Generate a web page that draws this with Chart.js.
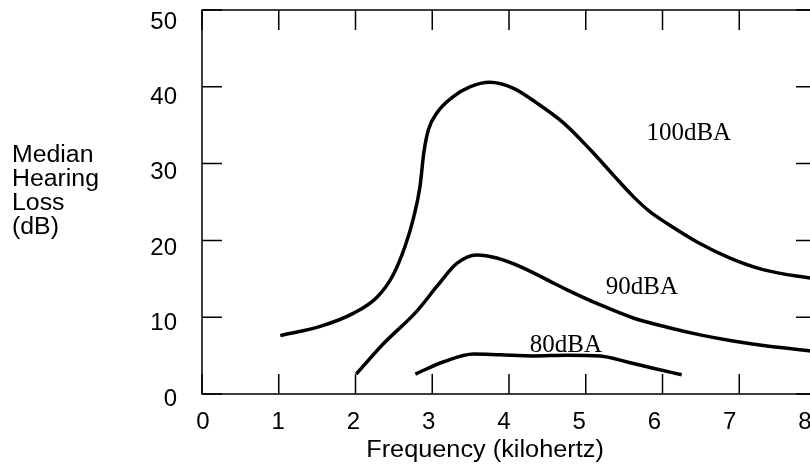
<!DOCTYPE html>
<html>
<head>
<meta charset="utf-8">
<script src="https://cdn.jsdelivr.net/npm/chart.js@4.4.1/dist/chart.umd.min.js"></script>
<style>
html, body { margin: 0; padding: 0; background: #fff; overflow: hidden; }
#wrap { width: 830px; height: 465px; }
</style>
</head>
<body>
<div id="wrap"><canvas id="chart" width="830" height="465"></canvas></div>
<script>
// tick values (frequency in kHz, loss in dB)
const xTickValues = [0, 1, 2, 3, 4, 5, 6, 7, 8];
const yTickValues = [0, 10, 20, 30, 40, 50];

// 100 dBA exposure
const freq100 = [1.02, 1.54, 1.97, 2.28, 2.49, 2.645, 2.75, 2.84, 2.89, 2.95, 3.06, 3.27, 3.49, 3.75, 4.06, 4.36, 4.71, 5.06, 5.36, 5.62, 5.84, 6.06, 6.45, 6.88, 7.31, 8.0];
const loss100 = [7.6, 8.8, 10.5, 12.6, 15.5, 19.2, 22.7, 27.0, 31.4, 34.4, 36.6, 38.7, 40.0, 40.6, 39.8, 37.9, 35.3, 31.8, 28.5, 25.7, 23.7, 22.2, 19.8, 17.7, 16.2, 14.95];

// 90 dBA exposure
const freq90 = [2.01, 2.36, 2.80, 3.06, 3.32, 3.58, 3.84, 4.19, 4.53, 4.75, 5.19, 5.62, 6.06, 6.49, 6.92, 7.36, 8.0];
const loss90 = [2.6, 6.5, 10.8, 14.0, 17.0, 18.1, 17.7, 16.4, 14.7, 13.6, 11.6, 9.9, 8.7, 7.7, 6.9, 6.25, 5.55];

// 80 dBA exposure
const freq80 = [2.78, 3.15, 3.54, 3.88, 4.32, 4.75, 5.19, 5.53, 5.88, 6.25];
const loss80 = [2.6, 4.2, 5.2, 5.1, 4.95, 5.05, 4.95, 4.2, 3.35, 2.5];

// curve labels, anchored in data units (left edge, baseline)
const curveNames = ['100dBA', '90dBA', '80dBA'];
const curveNameX = [5.79, 5.26, 4.27];
const curveNameY = [33.1, 13.0, 5.5];

const yTitleLines = ['Median', 'Hearing', 'Loss', '(dB)'];
const xTitle = 'Frequency (kilohertz)';

const TICK = 20;
const SANS = "'Liberation Sans', Arial, sans-serif";
const SERIF = "'Liberation Serif', 'Times New Roman', serif";

function toPoints(xs, ys) {
    return xs.map((x, i) => ({ x: x, y: ys[i] }));
}

function lineSet(label, xs, ys) {
    return {
        label: label,
        data: toPoints(xs, ys),
        borderColor: '#000',
        borderWidth: 3.5,
        borderCapStyle: 'butt',
        pointRadius: 0,
        fill: false,
        cubicInterpolationMode: 'monotone',
        xAxisID: 'x',
        yAxisID: 'y'
    };
}

// keep the label axes from reserving room for overhanging labels
function noPadding(s) {
    s.paddingTop = 0; s.paddingBottom = 0;
    s.paddingLeft = 0; s.paddingRight = 0;
}

const framePlugin = {
    id: 'frame',
    afterDatasetsDraw(chart) {
        const { ctx, chartArea: a, scales } = chart;
        const sx = scales.x, sy = scales.y;
        ctx.save();
        ctx.strokeStyle = '#000';
        ctx.lineWidth = 1.5;
        ctx.strokeRect(a.left, a.top, a.right - a.left, a.bottom - a.top);
        ctx.beginPath();
        xTickValues.forEach(v => {
            const px = sx.getPixelForValue(v);
            ctx.moveTo(px, a.top); ctx.lineTo(px, a.top + TICK);
            ctx.moveTo(px, a.bottom); ctx.lineTo(px, a.bottom - TICK);
        });
        yTickValues.forEach(v => {
            const py = sy.getPixelForValue(v);
            ctx.moveTo(a.left, py); ctx.lineTo(a.left + TICK, py);
            ctx.moveTo(a.right, py); ctx.lineTo(a.right - TICK, py);
        });
        ctx.stroke();

        // curve names
        ctx.fillStyle = '#000';
        ctx.font = '25px ' + SERIF;
        ctx.textAlign = 'left';
        ctx.textBaseline = 'alphabetic';
        curveNames.forEach((name, i) => {
            ctx.fillText(name, sx.getPixelForValue(curveNameX[i]), sy.getPixelForValue(curveNameY[i]));
        });

        // axis titles (slightly wide sans, as in the original)
        ctx.font = '23px ' + SANS;
        yTitleLines.forEach((line, i) => {
            ctx.save();
            ctx.translate(12, 161.5 + i * 24);
            ctx.scale(1.08, 1);
            ctx.fillText(line, 0, 0);
            ctx.restore();
        });
        ctx.save();
        ctx.translate(485, 456.5);
        ctx.scale(1.1, 1);
        ctx.textAlign = 'center';
        ctx.fillText(xTitle, 0, 0);
        ctx.restore();
        ctx.restore();
    }
};

new Chart(document.getElementById('chart'), {
    type: 'line',
    data: {
        datasets: [
            lineSet('100dBA', freq100, loss100),
            lineSet('90dBA', freq90, loss90),
            lineSet('80dBA', freq80, loss80)
        ]
    },
    options: {
        responsive: false,
        animation: false,
        devicePixelRatio: 1,
        layout: { padding: { left: 0, top: 10, right: 14, bottom: 0 }, autoPadding: false },
        plugins: { legend: { display: false }, tooltip: { enabled: false } },
        scales: {
            x: { type: 'linear', min: 0, max: 8, display: false },
            y: { type: 'linear', min: 0, max: 50, display: false },
            xl: {
                type: 'linear', position: 'bottom',
                min: -0.0133, max: 8.146,
                grid: { display: false, drawTicks: false },
                border: { display: false },
                afterBuildTicks: s => { s.ticks = xTickValues.map(v => ({ value: v })); },
                afterFit: s => { s.height = 71; noPadding(s); },
                ticks: {
                    autoSkip: false, maxRotation: 0, padding: 14,
                    color: '#000', font: { family: SANS, size: 24 },
                    callback: v => String(v)
                }
            },
            yl: {
                type: 'linear', position: 'left',
                min: 0.663, max: 51.6,
                grid: { display: false, drawTicks: false },
                border: { display: false },
                afterBuildTicks: s => { s.ticks = yTickValues.map(v => ({ value: v })); },
                afterFit: s => { s.width = 202; noPadding(s); },
                ticks: {
                    autoSkip: false, padding: 25,
                    color: '#000', font: { family: SANS, size: 24 },
                    callback: v => String(v)
                }
            }
        }
    },
    plugins: [framePlugin]
});
</script>
</body>
</html>
